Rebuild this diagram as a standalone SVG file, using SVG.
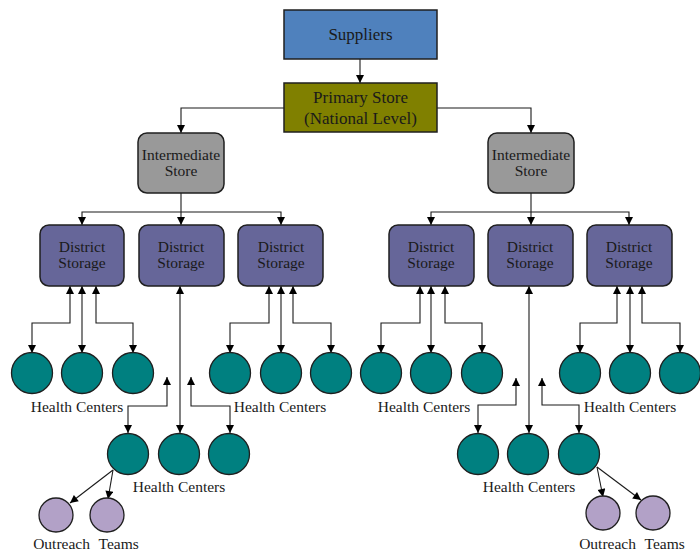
<svg xmlns="http://www.w3.org/2000/svg" width="700" height="552" viewBox="0 0 700 552">
<style>
text{font-family:"Liberation Serif","DejaVu Serif",serif;fill:#1a1a1a;text-anchor:middle}
.big{font-size:17px}
.sm{font-size:15.5px}
.box{stroke:#1f1f1f;stroke-width:1.5}
.hc{fill:#008080;stroke:#1f1f1f;stroke-width:1.3}
.ot{fill:#b2a1c7;stroke:#1f1f1f;stroke-width:1.3}
.c{fill:none;stroke:#1a1a1a;stroke-width:1.1}
.a{marker-end:url(#ar)}
.b{marker-start:url(#ar);marker-end:url(#ar)}
</style>
<defs>
<marker id="ar" viewBox="0 0 10 10" refX="10" refY="5" markerWidth="9" markerHeight="8" markerUnits="userSpaceOnUse" orient="auto-start-reverse">
<path d="M0,0 L10,5 L0,10 z" fill="#000"/>
</marker>
</defs>
<g id="connectors">
<path class="c a" d="M360,59 V83"/>
<path class="c a" d="M284,108 H181 V133"/>
<path class="c a" d="M437,108 H531 V133"/>
<path class="c a" d="M181,193 V225"/>
<path class="c b" d="M82,225 V212 H281 V225"/>
<path class="c a" d="M531,193 V225"/>
<path class="c b" d="M431,225 V212 H629 V225"/>
<path class="c b" d="M70,286 V323 H32 V353"/>
<path class="c b" d="M82,286 V353"/>
<path class="c b" d="M96,286 V323 H133 V353"/>
<path class="c b" d="M180,286 V433"/>
<path class="c b" d="M167,377 V406 H128 V433"/>
<path class="c b" d="M191,377 V406 H230 V433"/>
<path class="c b" d="M269,286 V323 H230 V353"/>
<path class="c b" d="M281,286 V353"/>
<path class="c b" d="M293,286 V323 H331 V353"/>
<path class="c b" d="M420,286 V323 H381 V353"/>
<path class="c b" d="M431,286 V353"/>
<path class="c b" d="M445,286 V323 H482 V353"/>
<path class="c b" d="M529,286 V433"/>
<path class="c b" d="M516,378 V405 H478 V433"/>
<path class="c b" d="M542,378 V405 H579 V433"/>
<path class="c b" d="M617,286 V323 H580 V353"/>
<path class="c b" d="M630,286 V353"/>
<path class="c b" d="M642,286 V323 H680 V353"/>
<path class="c a" d="M113,470 L70,503"/>
<path class="c a" d="M113,470 L108,499"/>
<path class="c a" d="M597,467 L603,497"/>
<path class="c a" d="M597,467 L641,500"/>
</g>
<g id="suppliers"><rect class="box" x="284" y="10" width="153" height="49" fill="#4f81bd"/><text class="big" x="360.5" y="40">Suppliers</text></g>
<g id="primary-store"><rect class="box" x="284" y="83" width="153" height="49" fill="#808000"/><text class="big" x="360.5" y="103">Primary Store</text><text class="big" x="360.5" y="124">(National Level)</text></g>
<g id="intermediate-left"><rect class="box" x="138" y="133" width="86" height="60" rx="9" fill="#999999"/><text class="sm" x="181" y="160">Intermediate</text><text class="sm" x="181" y="176">Store</text></g>
<g id="intermediate-right"><rect class="box" x="488" y="133" width="86" height="60" rx="9" fill="#999999"/><text class="sm" x="531" y="160">Intermediate</text><text class="sm" x="531" y="176">Store</text></g>
<g id="district-1"><rect class="box" x="40" y="225" width="84" height="61" rx="9" fill="#666699"/><text class="sm" x="82" y="252">District</text><text class="sm" x="82" y="268">Storage</text></g>
<g id="district-2"><rect class="box" x="139" y="225" width="85" height="61" rx="9" fill="#666699"/><text class="sm" x="181" y="252">District</text><text class="sm" x="181" y="268">Storage</text></g>
<g id="district-3"><rect class="box" x="238" y="225" width="85" height="61" rx="9" fill="#666699"/><text class="sm" x="281" y="252">District</text><text class="sm" x="281" y="268">Storage</text></g>
<g id="district-4"><rect class="box" x="389" y="225" width="85" height="61" rx="9" fill="#666699"/><text class="sm" x="431" y="252">District</text><text class="sm" x="431" y="268">Storage</text></g>
<g id="district-5"><rect class="box" x="488" y="225" width="85" height="61" rx="9" fill="#666699"/><text class="sm" x="530" y="252">District</text><text class="sm" x="530" y="268">Storage</text></g>
<g id="district-6"><rect class="box" x="587" y="225" width="85" height="61" rx="9" fill="#666699"/><text class="sm" x="629" y="252">District</text><text class="sm" x="629" y="268">Storage</text></g>
<g id="hc-group-1"><circle class="hc" cx="32" cy="373" r="20.5"/><circle class="hc" cx="82" cy="373" r="20.5"/><circle class="hc" cx="133" cy="373" r="20.5"/><text class="sm" x="77" y="412">Health Centers</text></g>
<g id="hc-group-2"><circle class="hc" cx="128" cy="454" r="20.5"/><circle class="hc" cx="179" cy="454" r="20.5"/><circle class="hc" cx="229" cy="454" r="20.5"/><text class="sm" x="179" y="492">Health Centers</text></g>
<g id="hc-group-3"><circle class="hc" cx="230" cy="373" r="20.5"/><circle class="hc" cx="281" cy="373" r="20.5"/><circle class="hc" cx="331" cy="373" r="20.5"/><text class="sm" x="280" y="412">Health Centers</text></g>
<g id="hc-group-4"><circle class="hc" cx="381" cy="373" r="20.5"/><circle class="hc" cx="431" cy="373" r="20.5"/><circle class="hc" cx="482" cy="373" r="20.5"/><text class="sm" x="424" y="412">Health Centers</text></g>
<g id="hc-group-5"><circle class="hc" cx="478" cy="454" r="20.5"/><circle class="hc" cx="528" cy="454" r="20.5"/><circle class="hc" cx="579" cy="454" r="20.5"/><text class="sm" x="529" y="492">Health Centers</text></g>
<g id="hc-group-6"><circle class="hc" cx="580" cy="373" r="20.5"/><circle class="hc" cx="630" cy="373" r="20.5"/><circle class="hc" cx="680" cy="373" r="20.5"/><text class="sm" x="630" y="412">Health Centers</text></g>
<g id="outreach-left"><circle class="ot" cx="56" cy="515" r="17"/><circle class="ot" cx="107" cy="515" r="17"/><text class="sm" x="86" y="549" word-spacing="5">Outreach Teams</text></g>
<g id="outreach-right"><circle class="ot" cx="603" cy="513" r="17"/><circle class="ot" cx="653" cy="513" r="17"/><text class="sm" x="632" y="549" word-spacing="5">Outreach Teams</text></g>
</svg>
